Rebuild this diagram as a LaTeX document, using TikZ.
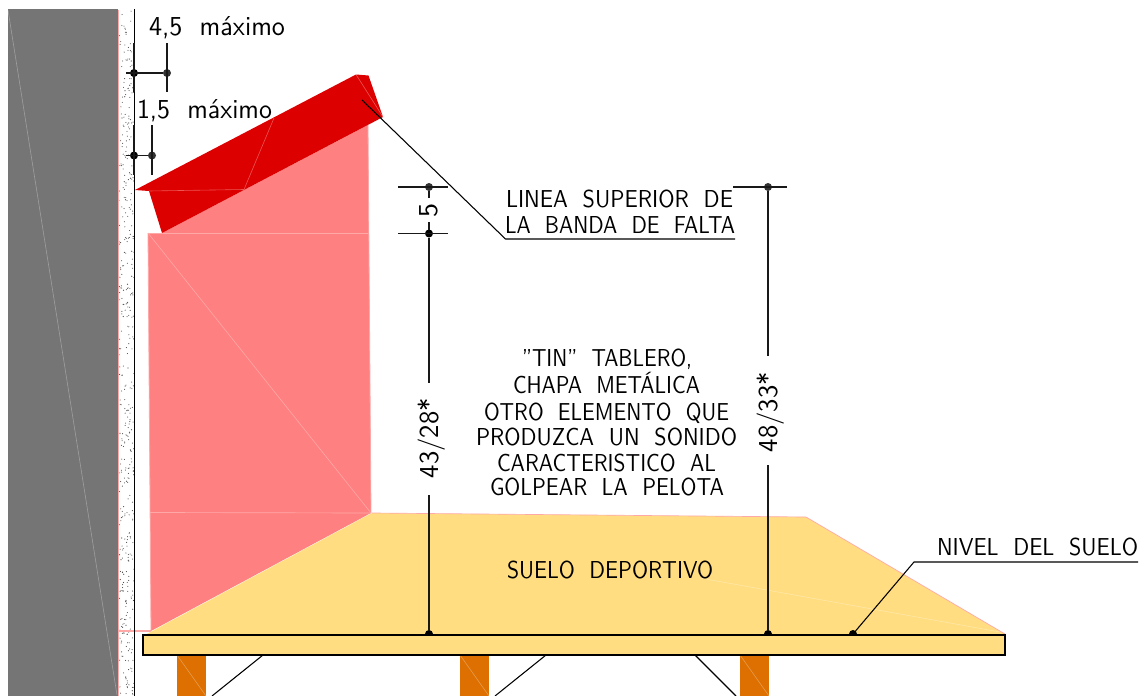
\documentclass[tikz,border=0pt]{standalone}
\usepackage{fontspec}
\usepackage{graphicx}
\definecolor{wallgray}{HTML}{757575}
\definecolor{tinred}{HTML}{DC0000}
\definecolor{tinpink}{HTML}{FF8080}
\definecolor{floorcol}{HTML}{FFDD80}
\definecolor{postcol}{HTML}{DD7000}
\definecolor{seam}{HTML}{FFA8A8}
\newlength{\pxu}\setlength{\pxu}{0.75pt}
\newcommand{\lbl}[3]{\resizebox{#1\pxu}{#2\pxu}{\raisebox{0pt}[6.94pt][0pt]{\fontsize{10}{12}\sffamily #3}}}
\tikzset{
  every node/.style={inner sep=0pt,outer sep=0pt},
  txt/.style={anchor=base west,text=black},
  vtxt/.style={rotate=90,anchor=base,text=black},
  dotn/.style={circle,fill=black,minimum size=6pt},
  dim/.style={draw=black!90,line width=1pt},
  thin seam/.style={draw=white,opacity=.3,line width=0.45pt},
  lead/.style={draw=black,line width=0.8pt}
}
\begin{document}
\begin{tikzpicture}[x=0.75pt,y=-0.75pt]
\useasboundingbox (0,0) rectangle (1147,696);
% wall
\fill[wallgray] (8,9) rectangle (118,696);
\draw[thin seam] (8,10) -- (117,695);
% speckled strip
\pgfmathsetseed{4217}
\foreach \i in {1,...,430}{
  \pgfmathsetmacro{\px}{119+rnd*15}
  \pgfmathsetmacro{\py}{10+rnd*686}
  \fill[black!70] (\px,\py) circle[radius=0.55];
}
\draw[seam,line width=0.8pt] (118.5,10) -- (118.5,696);
\draw[seam,line width=0.8pt] (118,631) -- (151,631);
\draw[black,line width=1pt] (134.6,9) -- (134.6,696);
% pink tin board
\fill[tinpink] (148,233) -- (162,233) -- (368,125) -- (371,513) -- (151,631) -- cycle;
\draw[seam,line width=0.6pt] (148,233) -- (368,233);
\draw[seam,line width=0.45pt] (148,233) -- (371,513);
\draw[seam,line width=0.5pt] (150,512.5) -- (371,513);
\draw[seam,line width=0.6pt] (148,233) -- (151,631);
\draw[seam,line width=0.6pt] (368,125) -- (371,513);
% red band
\fill[tinred] (135,190) -- (356,74.5) -- (368.5,75.5) -- (383,117) -- (162,233) -- (149,191) -- cycle;
\draw[seam,opacity=.5,line width=0.45pt] (149,191) -- (244,189.5) -- (274,118);
\draw[seam,opacity=.5,line width=0.45pt] (356,74.5) -- (383,117);
% floor
\fill[floorcol] (372,513) -- (806,517) -- (1005,634) -- (143,636) -- cycle;
\draw[seam,line width=0.5pt] (372,513) -- (806,517) -- (1005,634);
\draw[white,opacity=.35,line width=0.4pt] (700,578) -- (1000,632);
% posts
\foreach \xa in {177,460,740}{
  \fill[postcol] (\xa,655) rectangle (\xa+29,696);
  \draw[thin seam] (\xa,655) -- (\xa+29,696);
}
% braces
\coordinate (ba) at (263,655); \coordinate (bb) at (212,696);
\coordinate (bc) at (546,655); \coordinate (bd) at (495,696);
\coordinate (be) at (695,655); \coordinate (bf) at (736,696);
\draw[lead] (ba) -- (bb);
\draw[lead] (bc) -- (bd);
\draw[lead] (be) -- (bf);
% 4,5 dimension
\node[dotn] (d1) at (134,73) {};
\node[dotn,fill=black!80] (d2) at (167,73) {};
\coordinate (d1t) at (134,43); \coordinate (d1b) at (134,92);
\coordinate (d2t) at (167,43); \coordinate (d2b) at (167,92);
\coordinate (d1l) at (126,73);
\draw[dim] (d1t) -- (d1b);
\draw[dim] (d2t) -- (d2b);
\draw[dim] (d1l) -- (d2);
% 1,5 dimension
\node[dotn] (d3) at (134,155.5) {};
\node[dotn,fill=black!80] (d4) at (152,155.5) {};
\coordinate (d3t) at (134,125); \coordinate (d3b) at (134,175);
\coordinate (d4t) at (152,125); \coordinate (d4b) at (152,175);
\coordinate (d3l) at (126,155.5);
\draw[dim] (d3t) -- (d3b);
\draw[dim] (d4t) -- (d4b);
\draw[dim] (d3l) -- (d4);
% 5 and 43/28 dimension
\node[dotn,fill=black!80] (e1) at (429,187) {};
\node[dotn] (e2) at (429,233.5) {};
\node[dotn] (e3) at (429,634) {};
\coordinate (e1l) at (398,187); \coordinate (e1r) at (448,187);
\coordinate (e2l) at (398,233.5); \coordinate (e2r) at (448,233.5);
\coordinate (g1) at (429,198); \coordinate (g2) at (429,222);
\coordinate (g3) at (429,383); \coordinate (g4) at (429,495);
\draw[dim] (e1l) -- (e1r);
\draw[dim] (e2l) -- (e2r);
\draw[dim] (e1) -- (g1);
\draw[dim] (g2) -- (e2);
\draw[dim] (e2) -- (g3);
\draw[dim] (g4) -- (e3);
% 48/33 dimension
\node[dotn,fill=black!80] (f1) at (768,187) {};
\node[dotn] (f2) at (768,634) {};
\coordinate (f1l) at (733,187); \coordinate (f1r) at (787,187);
\coordinate (h1) at (768,356); \coordinate (h2) at (768,465);
\draw[dim] (f1l) -- (f1r);
\draw[dim] (f1) -- (h1);
\draw[dim] (h2) -- (f2);
% leaders
\coordinate (l1) at (362,100); \coordinate (l2) at (505.5,239); \coordinate (l3) at (735,239);
\draw[lead] (l1) -- (l2) -- (l3);
\coordinate (n1) at (1138,562); \coordinate (n2) at (914,562);
\node[dotn] (n3) at (853,634) {};
\draw[lead] (n1) -- (n2) -- (n3);
% slab covers the lower halves of the dots
\node[draw=black,line width=1.5pt,fill=floorcol,minimum width=862\pxu,minimum height=20\pxu,anchor=north west] (slab) at (143,635) {};
% labels
\node[txt] (t1) at (149,36) {\lbl{136}{19}{4,5\ \ máximo}};
\node[txt] (t2) at (137,118) {\lbl{135}{19}{1,5\ \ máximo}};
\node[txt] (t3) at (506,207) {\lbl{227}{17}{LINEA\ \ SUPERIOR\ \ DE}};
\node[txt] (t4) at (505,233) {\lbl{230}{17}{LA\ \ BANDA\ \ DE\ \ FALTA}};
\node[txt] (t5) at (522,366) {\lbl{170}{17}{"TIN"\ \ TABLERO,}};
\node[txt] (t6) at (513,393) {\lbl{187}{17}{CHAPA\ \ METÁLICA}};
\node[txt] (t7) at (484,420) {\lbl{245}{17}{OTRO\ \ ELEMENTO\ \ QUE}};
\node[txt] (t8) at (476,445) {\lbl{261}{17}{PRODUZCA\ \ UN\ \ SONIDO}};
\node[txt] (t9) at (497,471) {\lbl{219}{17}{CARACTERISTICO\ \ AL}};
\node[txt] (t10) at (490,495) {\lbl{234}{17}{GOLPEAR\ \ LA\ \ PELOTA}};
\node[txt] (t11) at (507,578) {\lbl{206}{17}{SUELO\ \ DEPORTIVO}};
\node[txt] (t12) at (937,555) {\lbl{201}{17}{NIVEL\ \ DEL\ \ SUELO}};
\node[vtxt] (t13) at (437,210.5) {\lbl{14}{19}{5}};
\node[vtxt] (t14) at (438,438) {\lbl{80}{19}{43/28*}};
\node[vtxt] (t15) at (777,412) {\lbl{80}{19}{48/33*}};
\end{tikzpicture}
\end{document}
